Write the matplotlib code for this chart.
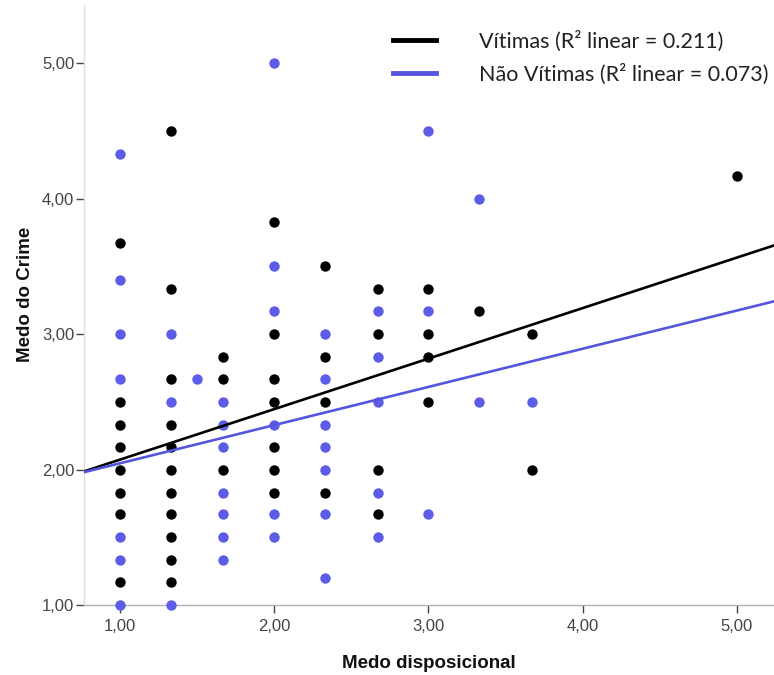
import matplotlib
matplotlib.use("Agg")
import matplotlib.pyplot as plt
import numpy as np

# ---- data ----
vit_x = [1.0]*8 + [1.33]*11 + [1.67]*3 + [2.0]*7 + [2.33]*4 + [2.67]*4 + [3.0]*4 + [3.33] + [3.67]*2 + [5.0]
vit_y = [3.67, 2.5, 2.33, 2.17, 2.0, 1.83, 1.67, 1.17,
         4.5, 3.33, 2.67, 2.33, 2.17, 2.0, 1.83, 1.67, 1.5, 1.33, 1.17,
         2.83, 2.67, 2.0,
         3.83, 3.0, 2.67, 2.5, 2.17, 2.0, 1.83,
         3.5, 2.83, 2.5, 1.83,
         3.33, 3.0, 2.0, 1.67,
         3.33, 3.0, 2.83, 2.5,
         3.17,
         3.0, 2.0,
         4.17]
nvit_x = [1.0]*7 + [1.33]*3 + [1.5] + [1.67]*7 + [2.0]*6 + [2.33]*7 + [2.67]*5 + [3.0]*3 + [3.33]*2 + [3.67]
nvit_y = [4.33, 3.4, 3.0, 2.67, 1.5, 1.33, 1.0,
          3.0, 2.5, 1.0,
          2.67,
          2.5, 2.33, 2.17, 1.83, 1.67, 1.5, 1.33,
          5.0, 3.5, 3.17, 2.33, 1.67, 1.5,
          3.0, 2.67, 2.33, 2.17, 2.0, 1.67, 1.2,
          3.17, 2.83, 2.5, 1.83, 1.5,
          4.5, 3.17, 1.67,
          4.0, 2.5,
          2.5]
# fit lines (intercept, slope)
vit_fit = (1.70, 0.373)
nvit_fit = (1.764, 0.282)
legend_labels = ["Vítimas (R² linear = 0.211)", "Não Vítimas (R² linear = 0.073)"]
xticks = [1, 2, 3, 4, 5]
yticks = [1, 2, 3, 4, 5]

BLACK = "#000000"
BLUE_PT = "#5c5ce6"
BLUE_LN = "#5555e0"

plt.rcParams["font.family"] = ["Liberation Sans Narrow", "Liberation Sans", "DejaVu Sans"]

fig = plt.figure(figsize=(7.74, 6.75), dpi=100)
ax = fig.add_axes([0.1085, 0.1037, 0.8915, 0.889])

ax.scatter(vit_x, vit_y, s=56, color=BLACK, zorder=3, clip_on=False, linewidths=0)
ax.scatter(nvit_x, nvit_y, s=56, color=BLUE_PT, zorder=3, clip_on=False, linewidths=0)

xmin, xmax = 0.767, 5.24
xl = np.array([xmin, xmax])
l1, = ax.plot(xl, vit_fit[0] + vit_fit[1]*xl, color=BLACK, lw=1.9, zorder=4)
l2, = ax.plot(xl, nvit_fit[0] + nvit_fit[1]*xl, color=BLUE_LN, lw=1.9, zorder=4)

ax.set_xlim(xmin, xmax)
ax.set_ylim(1.0, 5.43)
ax.set_xticks(xticks)
ax.set_yticks(yticks)
ax.set_xticklabels([f"{v:.2f}".replace(".", ",") for v in xticks])
ax.set_yticklabels([f"{v:.2f}".replace(".", ",") for v in yticks])

for s in ["top", "right"]:
    ax.spines[s].set_visible(False)
ax.spines["left"].set_color("#e0e0e0")
ax.spines["bottom"].set_color("#b0b0b0")
ax.spines["left"].set_linewidth(1.0)
ax.spines["bottom"].set_linewidth(1.0)

ax.tick_params(axis="both", colors="#444444", labelcolor="#444444", length=6, width=1.0, labelsize=12)
ax.tick_params(axis="x", pad=4)
ax.tick_params(axis="y", pad=1)

ax.set_xlabel("Medo disposicional", fontsize=13.5, fontweight="bold", labelpad=15, color="#111111")
ax.set_ylabel("Medo do Crime", fontsize=13.5, fontweight="bold", color="#111111")
ax.yaxis.set_label_coords(-0.072, 0.517)

leg = ax.legend([l1, l2], legend_labels, loc="upper left", bbox_to_anchor=(0.42, 0.99),
                frameon=False, handlelength=2.0, handletextpad=2.0, labelspacing=0.56,
                prop=dict(family=["Lato", "DejaVu Sans"], size=15.5))
for t in leg.get_texts():
    t.set_color("#222222")
for h in leg.legend_handles:
    h.set_linewidth(3.5)

fig.savefig("out.png", dpi=100)
